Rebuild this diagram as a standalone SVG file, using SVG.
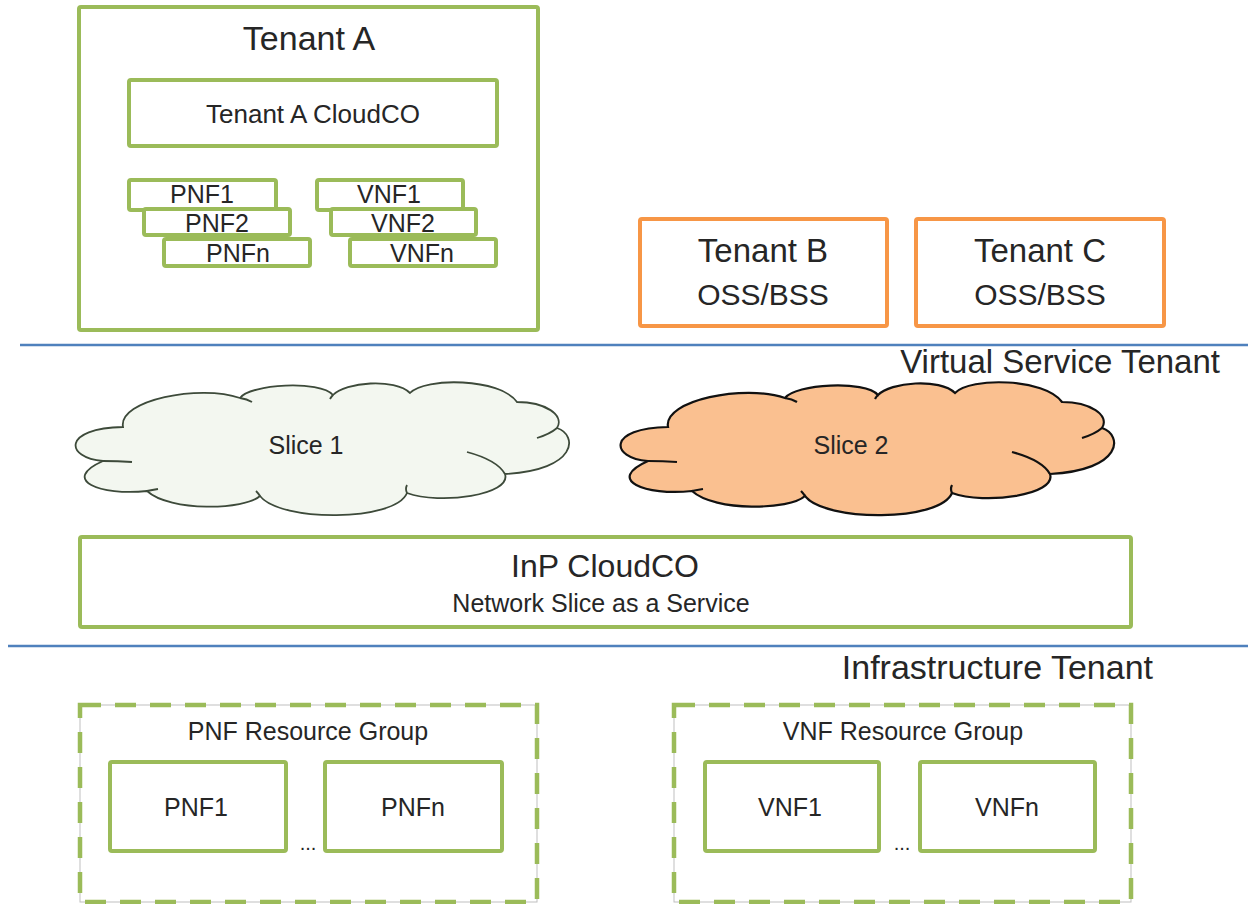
<svg xmlns="http://www.w3.org/2000/svg" width="1248" height="904" viewBox="0 0 1248 904">
  <style>
    text { font-family: "Liberation Sans", Arial, sans-serif; fill: #262626; text-anchor: middle; }
    .g { fill: #ffffff; stroke: #9BBB59; stroke-width: 4; }
    .o { fill: #ffffff; stroke: #F79646; stroke-width: 4; }
    .grp-base { fill: #ffffff; stroke: #BFBFBF; stroke-width: 1; }
    .grp-dash { fill: none; stroke: #9BBB59; stroke-width: 4.5; stroke-dasharray: 21 14; }
    .sep { stroke: #4F81BD; stroke-width: 2.5; }
    .crease { fill: none; }
    .t34 { font-size: 34px; }
    .t33 { font-size: 33px; }
    .t32 { font-size: 32px; }
    .t30 { font-size: 30px; }
    .t26 { font-size: 26px; }
    .t25 { font-size: 25px; }
    .t20 { font-size: 20px; }
    .end { text-anchor: end; }
  </style>
  <defs>
    <path id="cloud-outline" d="M123,427 C118,400 200,384 240,398 C250,384 320,380 333,395 C345,382 395,378 410,393 C425,377 500,378 517,402 C545,402 565,415 557,428 C578,435 578,470 505,474 C512,495 440,505 407,493 C395,522 280,522 260,496 C245,510 170,512 147,491 C100,496 60,480 103,461 C65,458 62,428 123,427 Z"/>
    <path id="cloud-creases" d="M240,398 Q247,399 252,402 M333,395 Q331,397 330,399 M557,428 Q550,434 537,438 M467,452 Q497,460 505,474 M407,493 Q405,489 407,485 M260,496 Q258,493 256,491 M147,491 Q152,490 158,489 M103,461 Q118,461 132,462"/>
  </defs>

  <!-- layer separators -->
  <g id="separators">
    <line class="sep" x1="20" y1="345" x2="1248" y2="345"/>
    <line class="sep" x1="8" y1="646" x2="1248" y2="646"/>
  </g>

  <!-- layer labels -->
  <text class="t33 end" x="1220" y="373">Virtual Service Tenant</text>
  <text class="t34 end" x="1153" y="679">Infrastructure Tenant</text>

  <!-- Tenant A with its own CloudCO and functions -->
  <g id="tenant-a">
    <rect class="g" x="79" y="7" width="459" height="323" rx="2"/>
    <text class="t34" x="309" y="50">Tenant A</text>
  </g>
  <g id="tenant-a-cloudco">
    <rect class="g" x="129" y="80" width="368" height="66" rx="2"/>
    <text class="t26" x="313" y="123">Tenant A CloudCO</text>
  </g>
  <g id="tenant-a-pnf1">
    <rect class="g" x="129" y="180" width="147" height="30" rx="2"/>
    <text class="t25" x="202" y="203">PNF1</text>
  </g>
  <g id="tenant-a-pnf2">
    <rect class="g" x="144" y="209" width="146" height="26" rx="2"/>
    <text class="t25" x="217" y="232">PNF2</text>
  </g>
  <g id="tenant-a-pnfn">
    <rect class="g" x="164" y="239" width="146" height="27" rx="2"/>
    <text class="t25" x="238" y="262">PNFn</text>
  </g>
  <g id="tenant-a-vnf1">
    <rect class="g" x="317" y="180" width="146" height="30" rx="2"/>
    <text class="t25" x="389" y="203">VNF1</text>
  </g>
  <g id="tenant-a-vnf2">
    <rect class="g" x="331" y="209" width="145" height="26" rx="2"/>
    <text class="t25" x="403" y="232">VNF2</text>
  </g>
  <g id="tenant-a-vnfn">
    <rect class="g" x="350" y="239" width="146" height="27" rx="2"/>
    <text class="t25" x="422" y="262">VNFn</text>
  </g>

  <!-- Tenants B and C -->
  <g id="tenant-b">
    <rect class="o" x="640" y="219" width="247" height="107" rx="2"/>
    <text class="t33" x="763" y="262">Tenant B</text>
    <text class="t30" x="763" y="305">OSS/BSS</text>
  </g>
  <g id="tenant-c">
    <rect class="o" x="916" y="219" width="248" height="107" rx="2"/>
    <text class="t33" x="1040" y="262">Tenant C</text>
    <text class="t30" x="1040" y="305">OSS/BSS</text>
  </g>

  <!-- network slices -->
  <g id="slice-1">
    <use href="#cloud-outline" fill="#F3F7F0" stroke="#3D4A3A" stroke-width="1.8"/>
    <use href="#cloud-creases" class="crease" stroke="#3D4A3A" stroke-width="1.8"/>
    <text class="t25" x="306" y="454">Slice 1</text>
  </g>
  <g id="slice-2" transform="translate(545,0)">
    <use href="#cloud-outline" fill="#FAC090" stroke="#111111" stroke-width="2.2"/>
    <use href="#cloud-creases" class="crease" stroke="#111111" stroke-width="2.2"/>
    <text class="t25" x="306" y="454">Slice 2</text>
  </g>

  <!-- infrastructure provider CloudCO -->
  <g id="inp-cloudco">
    <rect class="g" x="80" y="537" width="1051" height="90" rx="2"/>
    <text class="t32" x="605" y="577">InP CloudCO</text>
    <text class="t25" x="601" y="612">Network Slice as a Service</text>
  </g>

  <!-- resource groups -->
  <g id="pnf-resource-group">
    <rect class="grp-base" x="80" y="705" width="457" height="197"/>
    <rect class="grp-dash" x="80" y="705" width="457" height="197"/>
    <text class="t25" x="308" y="740">PNF Resource Group</text>
    <text class="t20" x="308" y="850">...</text>
  </g>
  <g id="pnf1">
    <rect class="g" x="110" y="762" width="176" height="89" rx="2"/>
    <text class="t25" x="196" y="816">PNF1</text>
  </g>
  <g id="pnfn">
    <rect class="g" x="325" y="762" width="177" height="89" rx="2"/>
    <text class="t25" x="413" y="816">PNFn</text>
  </g>

  <g id="vnf-resource-group">
    <rect class="grp-base" x="674" y="705" width="457" height="197"/>
    <rect class="grp-dash" x="674" y="705" width="457" height="197"/>
    <text class="t25" x="903" y="740">VNF Resource Group</text>
    <text class="t20" x="902" y="850">...</text>
  </g>
  <g id="vnf1">
    <rect class="g" x="705" y="762" width="174" height="89" rx="2"/>
    <text class="t25" x="790" y="816">VNF1</text>
  </g>
  <g id="vnfn">
    <rect class="g" x="920" y="762" width="175" height="89" rx="2"/>
    <text class="t25" x="1007" y="816">VNFn</text>
  </g>

  <!-- no connectors are drawn between the nodes -->
  <g id="connectors"/>
</svg>
